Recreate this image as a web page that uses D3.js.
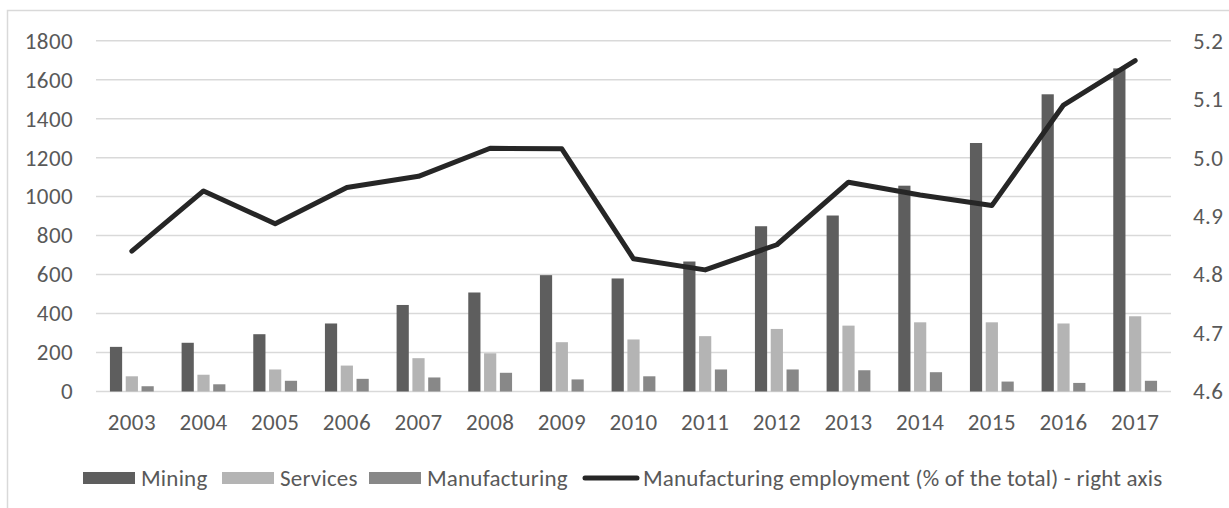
<!DOCTYPE html>
<meta charset="utf-8">
<head>
  <title>Mining, services, manufacturing</title>
</head>

<style>
body {
  margin: 0;
  background: #fff;
}
text {
  font-family: Carlito, Lato, "Open Sans", sans-serif;
  fill: #595959;
}
</style>

<body>
  <div id="content">
    <svg width="1229" height="508"></svg>
  </div>

  <script src="https://cdnjs.cloudflare.com/ajax/libs/d3/7.8.5/d3.min.js"></script>

  <script>
var years = ['2003', '2004', '2005', '2006', '2007', '2008', '2009', '2010',
  '2011', '2012', '2013', '2014', '2015', '2016', '2017'];

var mining = [229, 250, 294, 349, 444, 508, 597, 580, 667, 848, 903, 1056, 1275, 1525, 1658];
var services = [78, 86, 113, 133, 171, 196, 253, 267, 284, 321, 338, 355, 355, 349, 386];
var manufacturing = [27, 37, 55, 65, 72, 96, 62, 78, 113, 113, 109, 99, 51, 44, 55];

// manufacturing employment, % of total (right axis)
var empShare = [4.840, 4.943, 4.887, 4.949, 4.968, 5.016, 5.015, 4.827,
  4.808, 4.851, 4.958, 4.936, 4.918, 5.090, 5.166];

var leftTicks = [0, 200, 400, 600, 800, 1000, 1200, 1400, 1600, 1800];
var rightTicks = [4.6, 4.7, 4.8, 4.9, 5.0, 5.1, 5.2];

var seriesNames = ['Mining', 'Services', 'Manufacturing'];
var seriesColors = ['#5e5e5e', '#b4b4b4', '#888888'];
var lineName = 'Manufacturing employment (% of the total) - right axis';

var svg = d3.select('#content svg');
var fontSize = 23;

// chart frame
svg.append('rect')
  .attr('x', 7.5).attr('y', 10.5)
  .attr('width', 1240).attr('height', 520)
  .attr('fill', 'none')
  .attr('stroke', '#d9d9d9')
  .attr('stroke-width', 1.5);

var plotLeft = 96, plotRight = 1171, plotTop = 40.7, plotBottom = 391.5;

var x = d3.scaleBand().domain(years).range([plotLeft, plotRight]).padding(0);
var bw = x.bandwidth();
var x1 = d3.scaleBand().domain(seriesNames)
  .range([bw * 0.1944, bw * 0.8056])
  .paddingInner(0.228);

var y = d3.scaleLinear().domain([0, 1800]).range([plotBottom, plotTop]);
var y2 = d3.scaleLinear().domain([4.6, 5.2]).range([plotBottom, plotTop]);

// gridlines
svg.append('g')
  .selectAll('line')
  .data(leftTicks)
  .join('line')
  .attr('x1', plotLeft).attr('x2', plotRight)
  .attr('y1', d => y(d)).attr('y2', d => y(d))
  .attr('stroke', '#d9d9d9')
  .attr('stroke-width', 1.5);

function styleTicks(g) {
  g.select('.domain').remove();
  g.selectAll('text')
    .attr('font-size', fontSize)
    .attr('font-family', null)
    .attr('letter-spacing', 0.4)
    .style('fill', '#595959');
}

// left axis
svg.append('g')
  .attr('transform', 'translate(73,0)')
  .call(d3.axisLeft(y).tickValues(leftTicks).tickFormat(d3.format('d')).tickSize(0).tickPadding(0))
  .call(styleTicks);

// right axis
svg.append('g')
  .attr('transform', 'translate(1193,0)')
  .call(d3.axisRight(y2).tickValues(rightTicks).tickFormat(d3.format('.1f')).tickSize(0).tickPadding(0))
  .call(styleTicks);

// x axis labels
svg.append('g')
  .attr('transform', 'translate(0,' + plotBottom + ')')
  .call(d3.axisBottom(x).tickSize(0).tickPadding(22))
  .call(styleTicks);

// bars
var allSeries = [mining, services, manufacturing];
var rows = [];
years.forEach(function(yr, i) {
  seriesNames.forEach(function(s, j) {
    rows.push({year: yr, series: s, value: allSeries[j][i], color: seriesColors[j]});
  });
});

svg.append('g')
  .selectAll('rect')
  .data(rows)
  .join('rect')
  .attr('x', d => x(d.year) + x1(d.series))
  .attr('width', x1.bandwidth())
  .attr('y', d => y(d.value))
  .attr('height', d => y(0) - y(d.value))
  .attr('fill', d => d.color);

// line (right axis)
var line = d3.line()
  .x((d, i) => x(years[i]) + bw / 2)
  .y(d => y2(d));

svg.append('path')
  .datum(empShare)
  .attr('d', line)
  .attr('fill', 'none')
  .attr('stroke', '#262626')
  .attr('stroke-width', 5)
  .attr('stroke-linejoin', 'round')
  .attr('stroke-linecap', 'round');

// legend
var legendY = 478;
var legendItems = [
  {name: 'Mining', color: seriesColors[0], kind: 'box', x: 83},
  {name: 'Services', color: seriesColors[1], kind: 'box', x: 222},
  {name: 'Manufacturing', color: seriesColors[2], kind: 'box', x: 369},
  {name: lineName, color: '#262626', kind: 'line', x: 585}
];

var lg = svg.append('g').selectAll('g')
  .data(legendItems)
  .join('g')
  .attr('transform', d => 'translate(' + d.x + ',' + legendY + ')');

lg.filter(d => d.kind === 'box')
  .append('rect')
  .attr('x', 0).attr('y', -6)
  .attr('width', 52).attr('height', 12)
  .attr('fill', d => d.color);

lg.filter(d => d.kind === 'line')
  .append('line')
  .attr('x1', 0).attr('x2', 52)
  .attr('y1', 0).attr('y2', 0)
  .attr('stroke', d => d.color)
  .attr('stroke-width', 5)
  .attr('stroke-linecap', 'round');

lg.append('text')
  .attr('x', d => d.kind === 'line' ? 58 : 58)
  .attr('y', 0)
  .attr('dy', '0.35em')
  .attr('font-size', fontSize)
  .attr('letter-spacing', 0.2)
  .text(d => d.name);
  </script>
</body>
</html>
